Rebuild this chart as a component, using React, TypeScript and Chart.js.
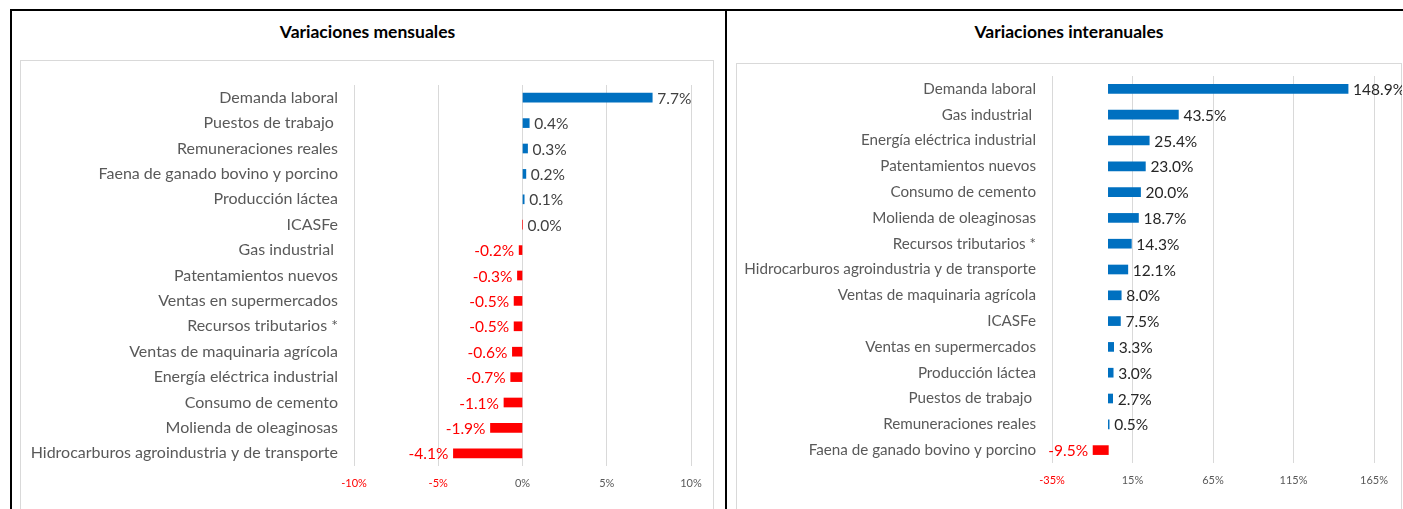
import React, { useEffect, useRef } from "react";
import { Chart, registerables } from "chart.js";

Chart.register(...registerables);

// ---- Data ----
const monthlyCategories = [
  "Demanda laboral",
  "Puestos de trabajo ",
  "Remuneraciones reales",
  "Faena de ganado bovino y porcino",
  "Producción láctea",
  "ICASFe",
  "Gas industrial ",
  "Patentamientos nuevos",
  "Ventas en supermercados",
  "Recursos tributarios *",
  "Ventas de maquinaria agrícola",
  "Energía eléctrica industrial",
  "Consumo de cemento",
  "Molienda de oleaginosas",
  "Hidrocarburos agroindustria y de transporte",
];
const monthlyValues = [7.7, 0.4, 0.3, 0.2, 0.1, 0.0, -0.2, -0.3, -0.5, -0.5, -0.6, -0.7, -1.1, -1.9, -4.1];
const monthlyTicks = { min: -10, max: 10, step: 5 };

const annualCategories = [
  "Demanda laboral",
  "Gas industrial ",
  "Energía eléctrica industrial",
  "Patentamientos nuevos",
  "Consumo de cemento",
  "Molienda de oleaginosas",
  "Recursos tributarios *",
  "Hidrocarburos agroindustria y de transporte",
  "Ventas de maquinaria agrícola",
  "ICASFe",
  "Ventas en supermercados",
  "Producción láctea",
  "Puestos de trabajo ",
  "Remuneraciones reales",
  "Faena de ganado bovino y porcino",
];
const annualValues = [148.9, 43.5, 25.4, 23.0, 20.0, 18.7, 14.3, 12.1, 8.0, 7.5, 3.3, 3.0, 2.7, 0.5, -9.5];
const annualTicks = { min: -35, max: 165, step: 50 };

// ---- Styles ----
const BLUE = "#0070c0";
const RED = "#ff0000";
const FONT = "Lato";

type Cfg = {
  categories: string[];
  values: number[];
  ticks: { min: number; max: number; step: number };
  width: number;
  height: number;
  axisWidth: number;
  padTop: number;
  padRight: number;
  xAxisHeight: number;
  posLabelColor: string;
  catFontSize: number;
  valFontSize: number;
};

function makeLabelPlugin(posColor: string, size: number) {
  return {
    id: "valueLabels",
    afterDatasetsDraw(chart: any) {
      const ctx = chart.ctx;
      const meta = chart.getDatasetMeta(0);
      const data = chart.data.datasets[0].data as number[];
      ctx.save();
      ctx.font = `${size}px ${FONT}`;
      ctx.textBaseline = "middle";
      meta.data.forEach((bar: any, i: number) => {
        const v = data[i];
        const text = v.toFixed(1) + "%";
        const { x, y } = bar.getProps(["x", "y"], true);
        if (v < 0) {
          ctx.textAlign = "right";
          ctx.fillStyle = RED;
          ctx.fillText(text, x - 5, y + 1);
        } else {
          ctx.textAlign = "left";
          ctx.fillStyle = posColor;
          ctx.fillText(text, x + 5, y + 1);
        }
      });
      ctx.restore();
    },
  };
}

function BarPanel(props: Cfg) {
  const ref = useRef<HTMLCanvasElement | null>(null);
  useEffect(() => {
    if (!ref.current) return;
    const chart = new Chart(ref.current, {
      type: "bar",
      data: {
        labels: props.categories,
        datasets: [
          {
            data: props.values,
            backgroundColor: props.values.map((v) => (v > 0 ? BLUE : RED)),
            barThickness: 9,
          },
        ],
      },
      options: {
        indexAxis: "y",
        animation: false,
        responsive: false,
        maintainAspectRatio: false,
        layout: { padding: { top: props.padTop, right: props.padRight, left: 0, bottom: 0 } },
        plugins: { legend: { display: false }, tooltip: { enabled: false }, title: { display: false } },
        scales: {
          x: {
            min: props.ticks.min,
            max: props.ticks.max,
            border: { display: false },
            grid: { color: "#d9d9d9", drawTicks: false, lineWidth: 1 },
            ticks: {
              stepSize: props.ticks.step,
              padding: 11,
              font: { family: FONT, size: 11 },
              color: (c: any) => (c.tick && c.tick.value < 0 ? RED : "#595959"),
              callback: (v: any) => v + "%",
            },
            afterFit: (s: any) => {
              s.height = props.xAxisHeight;
              s.paddingLeft = 0;
              s.paddingRight = 0;
            },
          },
          y: {
            border: { display: false },
            grid: { display: false, drawTicks: false },
            ticks: {
              padding: 16,
              autoSkip: false,
              font: { family: FONT, size: props.catFontSize },
              color: "#595959",
            },
            afterFit: (s: any) => {
              s.width = props.axisWidth;
              s.paddingTop = 0;
              s.paddingBottom = 0;
            },
          },
        },
      },
      plugins: [makeLabelPlugin(props.posLabelColor, props.valFontSize)],
    } as any);
    return () => chart.destroy();
  }, []);
  return <canvas ref={ref} width={props.width} height={props.height} style={{ width: props.width, height: props.height, display: "block" }} />;
}

export default function App() {
  const abs = (s: React.CSSProperties): React.CSSProperties => ({ position: "absolute", ...s });
  return (
    <div style={abs({ left: 0, top: 0, width: 1403, height: 509, overflow: "hidden", background: "#fff", fontFamily: FONT })}>
      {/* black frame */}
      <div style={abs({ left: 10, top: 9, width: 1393, height: 2, background: "#000" })} />
      <div style={abs({ left: 10, top: 9, width: 2, height: 500, background: "#000" })} />
      <div style={abs({ left: 725, top: 9, width: 2, height: 500, background: "#000" })} />
      {/* titles */}
      <div style={abs({ left: 20, top: 21, width: 695, textAlign: "center", fontWeight: 700, fontSize: 17.5, color: "#000" })}>
        Variaciones mensuales
      </div>
      <div style={abs({ left: 736, top: 21, width: 666, textAlign: "center", fontWeight: 700, fontSize: 17.5, color: "#000" })}>
        Variaciones interanuales
      </div>
      {/* inner boxes */}
      <div style={abs({ left: 20, top: 60, width: 694, height: 460, border: "1px solid #d9d9d9", boxSizing: "border-box" })} />
      <div style={abs({ left: 736, top: 63, width: 666, height: 460, border: "1px solid #d9d9d9", boxSizing: "border-box" })} />
      {/* charts */}
      <div style={abs({ left: 20, top: 60 })}>
        <BarPanel
          categories={monthlyCategories}
          values={monthlyValues}
          ticks={monthlyTicks}
          width={695}
          height={449}
          axisWidth={334}
          padTop={25}
          padRight={24}
          xAxisHeight={43}
          posLabelColor="#404040"
          catFontSize={16}
          valFontSize={15.5}
        />
      </div>
      <div style={abs({ left: 736, top: 63 })}>
        <BarPanel
          categories={annualCategories}
          values={annualValues}
          ticks={annualTicks}
          width={666}
          height={446}
          axisWidth={316}
          padTop={13}
          padRight={28}
          xAxisHeight={46}
          posLabelColor="#262626"
          catFontSize={15.2}
          valFontSize={15.5}
        />
      </div>
    </div>
  );
}
